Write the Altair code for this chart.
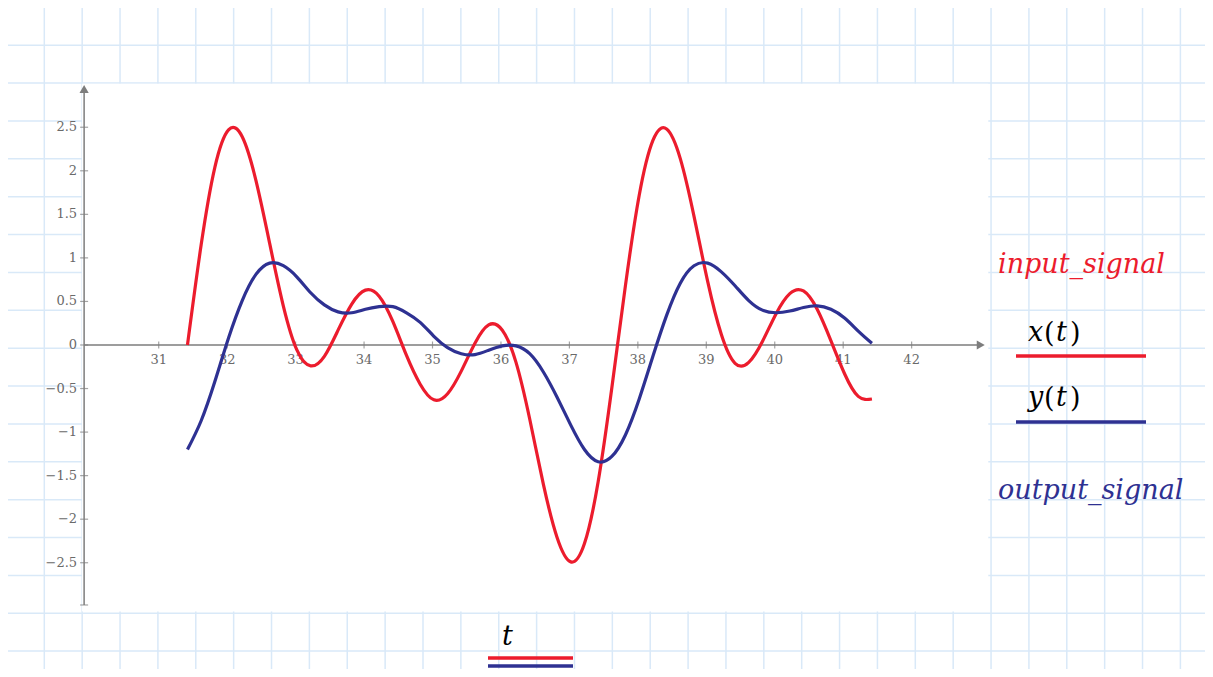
import altair as alt
import pandas as pd

# ---- data ----
t_values = [31.42, 31.62, 31.82, 32.02, 32.22, 32.42, 32.62, 32.82, 33.02, 33.22,
            33.42, 33.62, 33.82, 34.02, 34.22, 34.42, 34.62, 34.82, 35.02, 35.22,
            35.42, 35.62, 35.82, 36.02, 36.22, 36.42, 36.62, 36.82, 37.02, 37.22,
            37.42, 37.62, 37.82, 38.02, 38.22, 38.42, 38.62, 38.82, 39.02, 39.22,
            39.42, 39.62, 39.82, 40.02, 40.22, 40.42, 40.62, 40.82, 41.02, 41.22,
            41.42]
input_signal = [0.00, 1.15, 2.04, 2.47, 2.39, 1.89, 1.17, 0.45, -0.06, -0.24,
                -0.13, 0.17, 0.47, 0.63, 0.56, 0.27, -0.12, -0.45, -0.63, -0.56,
                -0.30, 0.02, 0.23, 0.17, -0.20, -0.85, -1.60, -2.21, -2.49, -2.28,
                -1.57, -0.49, 0.69, 1.72, 2.35, 2.48, 2.14, 1.48, 0.73, 0.12,
                -0.21, -0.20, 0.04, 0.36, 0.59, 0.62, 0.41, 0.05, -0.33, -0.59,
                -0.62]
output_signal = [-1.20, -0.87, -0.42, 0.08, 0.51, 0.81, 0.94, 0.91, 0.78, 0.60,
                 0.46, 0.38, 0.37, 0.41, 0.44, 0.44, 0.37, 0.26, 0.10, -0.03,
                 -0.10, -0.11, -0.06, -0.01, -0.01, -0.10, -0.31, -0.60, -0.92, -1.20,
                 -1.34, -1.28, -1.03, -0.62, -0.13, 0.34, 0.71, 0.91, 0.94, 0.84,
                 0.68, 0.51, 0.40, 0.37, 0.39, 0.43, 0.45, 0.41, 0.31, 0.16,
                 0.02]
x_tick_values = [31, 32, 33, 34, 35, 36, 37, 38, 39, 40, 41, 42]
x_tick_labels = ["31", "32", "33", "34", "35", "36", "37", "38", "39", "40", "41", "42"]
y_tick_values = [2.5, 2, 1.5, 1, 0.5, 0, -0.5, -1, -1.5, -2, -2.5]
y_tick_labels = ["2.5", "2", "1.5", "1", "0.5", "0", "\u22120.5", "\u22121",
                 "\u22121.5", "\u22122", "\u22122.5"]

# ---- layout / style ----
W, H = 1197, 661
XDOM = [28.798, 46.286]
YDOM = [-3.720, 3.869]
AXIS_X = 29.91       # position of the vertical axis (t units)
AXIS_X_END = 43.0    # end of horizontal axis line
AXIS_Y_BOTTOM = -2.985
AXIS_Y_TOP = 2.93
RED = "#ec1c2d"
BLUE = "#2e3192"
AXC = "#7d7d7d"
LABC = "#6a6a6a"
GRID = "#d9e9f8"
SERIF = "DejaVu Serif"

xs = alt.Scale(domain=XDOM, nice=False, zero=False)
ys = alt.Scale(domain=YDOM, nice=False, zero=False)

# background grid paper (pixel scales)
gx = [36.3 + 37.87 * k for k in range(31)]
gy = [37.2 + 37.87 * k for k in range(17)]
grid_v = alt.Chart(pd.DataFrame({"gx": gx})).mark_rule(color=GRID, strokeWidth=1.5).encode(
    x=alt.X("gx:Q", scale=alt.Scale(domain=[0, W], nice=False, zero=False), axis=None))
grid_h = alt.Chart(pd.DataFrame({"gy": gy})).mark_rule(color=GRID, strokeWidth=1.5).encode(
    y=alt.Y("gy:Q", scale=alt.Scale(domain=[0, H], nice=False, zero=False, reverse=True), axis=None))

# white plot region
frame = alt.Chart(pd.DataFrame({"a": [29.88], "b": [43.12], "c": [3.0], "d": [-3.06]})).mark_rect(
    color="white").encode(
    x=alt.X("a:Q", scale=xs, axis=None), x2="b:Q",
    y=alt.Y("c:Q", scale=ys, axis=None), y2="d:Q")

# axes
xaxis = alt.Chart(pd.DataFrame({"a": [AXIS_X], "b": [AXIS_X_END], "z": [0]})).mark_rule(
    color=AXC, strokeWidth=1.5).encode(
    x=alt.X("a:Q", scale=xs, axis=None), x2="b:Q", y=alt.Y("z:Q", scale=ys, axis=None))
yaxis = alt.Chart(pd.DataFrame({"a": [AXIS_X], "c": [AXIS_Y_BOTTOM], "d": [AXIS_Y_TOP]})).mark_rule(
    color=AXC, strokeWidth=1.5).encode(
    x=alt.X("a:Q", scale=xs, axis=None), y=alt.Y("c:Q", scale=ys, axis=None), y2="d:Q")
arrow_r = alt.Chart(pd.DataFrame({"a": [43.01], "z": [0]})).mark_point(
    shape="triangle-right", filled=True, size=85, color=AXC, opacity=1).encode(
    x=alt.X("a:Q", scale=xs, axis=None), y=alt.Y("z:Q", scale=ys, axis=None))
arrow_u = alt.Chart(pd.DataFrame({"a": [AXIS_X], "z": [2.94]})).mark_point(
    shape="triangle-up", filled=True, size=85, color=AXC, opacity=1).encode(
    x=alt.X("a:Q", scale=xs, axis=None), y=alt.Y("z:Q", scale=ys, axis=None))

xt_df = pd.DataFrame({"t": x_tick_values, "lab": x_tick_labels, "z": [0] * len(x_tick_values)})
yt_df = pd.DataFrame({"v": y_tick_values, "lab": y_tick_labels, "a": [AXIS_X] * len(y_tick_values)})

xticks = alt.Chart(xt_df).mark_tick(orient="vertical", size=7, thickness=1.2, color=AXC).encode(
    x=alt.X("t:Q", scale=xs, axis=None), y=alt.Y("z:Q", scale=ys, axis=None))
xlabels = alt.Chart(xt_df).mark_text(dy=15, baseline="middle", font=SERIF, fontSize=13,
                                     color=LABC).encode(
    x=alt.X("t:Q", scale=xs, axis=None), y=alt.Y("z:Q", scale=ys, axis=None), text="lab:N")
yticks = alt.Chart(yt_df).mark_tick(orient="horizontal", size=8, thickness=1.2, color=AXC).encode(
    x=alt.X("a:Q", scale=xs, axis=None), y=alt.Y("v:Q", scale=ys, axis=None))
ylabels = alt.Chart(yt_df).mark_text(dx=-7, align="right", baseline="middle", font=SERIF,
                                     fontSize=13, color=LABC).encode(
    x=alt.X("a:Q", scale=xs, axis=None), y=alt.Y("v:Q", scale=ys, axis=None), text="lab:N")
ycap = alt.Chart(pd.DataFrame({"a": [AXIS_X], "v": [AXIS_Y_BOTTOM]})).mark_tick(
    orient="horizontal", size=8, thickness=1.2, color=AXC).encode(
    x=alt.X("a:Q", scale=xs, axis=None), y=alt.Y("v:Q", scale=ys, axis=None))

# curves
sig = pd.DataFrame({"t": t_values, "x": input_signal, "y": output_signal})
line_x = alt.Chart(sig).mark_line(color=RED, strokeWidth=3.2, interpolate="natural").encode(
    x=alt.X("t:Q", scale=xs, axis=None), y=alt.Y("x:Q", scale=ys, axis=None))
line_y = alt.Chart(sig).mark_line(color=BLUE, strokeWidth=3.2, interpolate="natural").encode(
    x=alt.X("t:Q", scale=xs, axis=None), y=alt.Y("y:Q", scale=ys, axis=None))

# annotations / legend
one = alt.Data(values=[{}])


def label(txt, x, y, color, size=25, style="italic"):
    return alt.Chart(one).mark_text(text=txt, font=SERIF, fontStyle=style, fontSize=size,
                                    color=color, align="left", baseline="alphabetic").encode(
        x=alt.value(x), y=alt.value(y))


def seg(x1, x2, y, color):
    return alt.Chart(one).mark_rule(color=color, strokeWidth=3.5).encode(
        x=alt.value(x1), x2=alt.value(x2), y=alt.value(y))


annots = [
    label("input_signal", 990, 265, RED, 27),
    label("x", 1020, 333, "black", 27),
    label("(", 1036, 334, "black", 27, "normal"),
    label("t", 1048, 333, "black", 27),
    label(")", 1062, 334, "black", 27, "normal"),
    seg(1008, 1138, 348, RED),
    label("y", 1020, 398, "black", 27),
    label("(", 1036, 399, "black", 27, "normal"),
    label("t", 1048, 398, "black", 27),
    label(")", 1062, 399, "black", 27, "normal"),
    seg(1008, 1138, 414, BLUE),
    label("output_signal", 990, 491, BLUE, 27),
    label("t", 494, 637, "black", 27),
    seg(480, 565, 650, RED),
    seg(480, 565, 658, BLUE),
]

chart = alt.layer(
    grid_v, grid_h, frame, xaxis, yaxis, xticks, yticks, ycap, xlabels, ylabels,
    arrow_r, arrow_u, line_x, line_y, *annots
).resolve_scale(x="independent", y="independent").properties(
    width=W, height=H, padding=0, autosize=alt.AutoSizeParams(type="none")
).configure_view(stroke=None)

chart.save("out.html", embed_options={"renderer": "svg", "actions": False})
